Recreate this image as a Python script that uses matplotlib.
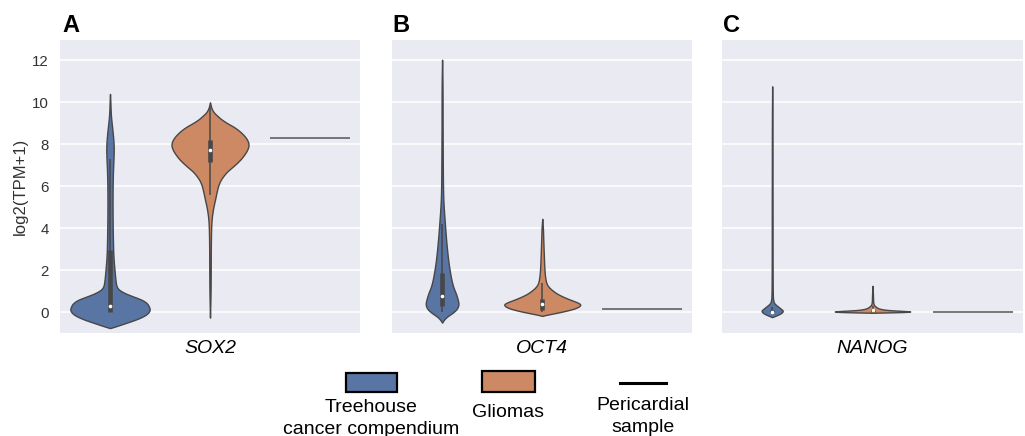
import numpy as np
import matplotlib
matplotlib.use("Agg")
import matplotlib.pyplot as plt
from matplotlib.patches import Rectangle
from matplotlib.lines import Line2D

plt.rcParams['font.family'] = ['Liberation Sans', 'DejaVu Sans']

# ---------------- data ----------------
genes = ["SOX2", "OCT4", "NANOG"]
panel_letters = ["A", "B", "C"]
groups = ["Treehouse\ncancer compendium", "Gliomas", "Pericardial\nsample"]
yticks = [0, 2, 4, 6, 8, 10, 12]
ylabel = "log2(TPM+1)"

# violin half-width profiles (y value, half width in category units)
sox2_tree_y = [-0.76, -0.69, -0.53, -0.37, -0.21, -0.05, 0.11, 0.27, 0.43, 0.59, 0.75, 0.9, 1.06, 1.22,
               1.5, 2.0, 2.5, 3.0, 4.0, 5.0, 6.0, 6.8, 7.3, 7.8, 8.2, 8.7, 9.2, 9.6, 10.0, 10.4]
sox2_tree_w = [0.0, 0.05, 0.15, 0.25, 0.33, 0.38, 0.40, 0.39, 0.37, 0.32, 0.23, 0.15, 0.09, 0.065,
               0.055, 0.045, 0.036, 0.031, 0.027, 0.025, 0.026, 0.03, 0.035, 0.038, 0.034, 0.024, 0.012, 0.006, 0.004, 0.0]
sox2_glio_y = [-0.26, 1.0, 2.0, 3.0, 3.8, 4.3, 4.6, 5.0, 5.35, 5.7, 6.0, 6.25, 6.47, 6.7, 6.94, 7.2,
               7.42, 7.7, 7.98, 8.25, 8.53, 8.8, 9.01, 9.2, 9.33, 9.5, 9.7, 10.0]
sox2_glio_w = [0.0, 0.006, 0.007, 0.008, 0.01, 0.014, 0.02, 0.033, 0.05, 0.065, 0.08, 0.1, 0.13, 0.17,
               0.23, 0.29, 0.33, 0.37, 0.39, 0.37, 0.32, 0.25, 0.17, 0.11, 0.08, 0.04, 0.015, 0.0]
oct4_tree_y = [-0.5, -0.35, -0.21, -0.05, 0.11, 0.25, 0.4, 0.59, 0.75, 0.9, 1.05, 1.22, 1.54, 1.87,
               2.49, 3.45, 4.08, 4.73, 5.35, 6.0, 7.0, 8.0, 9.0, 10.0, 11.0, 12.03]
oct4_tree_w = [0.0, 0.02, 0.05, 0.10, 0.14, 0.158, 0.165, 0.157, 0.147, 0.137, 0.124, 0.11, 0.093, 0.08,
               0.06, 0.04, 0.03, 0.02, 0.012, 0.009, 0.007, 0.006, 0.005, 0.005, 0.004, 0.0]
oct4_glio_y = [-0.18, -0.13, 0.03, 0.19, 0.35, 0.47, 0.59, 0.75, 0.9, 1.06, 1.22, 1.38, 1.7, 2.17,
               2.8, 3.5, 4.0, 4.45]
oct4_glio_w = [0.0, 0.04, 0.21, 0.34, 0.39, 0.35, 0.28, 0.2, 0.14, 0.095, 0.06, 0.04, 0.027, 0.02,
               0.015, 0.01, 0.007, 0.0]
nanog_tree_y = [-0.24, -0.15, -0.05, 0.06, 0.15, 0.3, 0.46, 1.0, 3.0, 5.0, 7.0, 9.0, 10.76]
nanog_tree_w = [0.0, 0.045, 0.09, 0.11, 0.09, 0.05, 0.01, 0.005, 0.004, 0.004, 0.003, 0.003, 0.0]
nanog_glio_y = [-0.03, 0.0, 0.03, 0.06, 0.1, 0.15, 0.2, 0.27, 0.35, 0.5, 0.8, 1.25]
nanog_glio_w = [0.0, 0.3, 0.40, 0.3, 0.15, 0.08, 0.05, 0.03, 0.012, 0.006, 0.005, 0.0]

# box stats: (whisker low, q1, median, q3, whisker high)
sox2_tree_box = (0.0, 0.03, 0.30, 2.97, 7.3)
sox2_glio_box = (5.6, 7.14, 7.74, 8.22, 9.8)
oct4_tree_box = (0.0, 0.27, 0.79, 1.86, 4.2)
oct4_glio_box = (0.0, 0.11, 0.40, 0.63, 1.4)
nanog_tree_box = (0.0, 0.0, 0.03, 0.10, 0.25)
nanog_glio_box = (0.0, 0.0, 0.10, 0.15, 0.3)

# single pericardial sample values
pericardial = [8.3, 0.16, 0.0]

# ---------------- style ----------------
W, H = 1025, 436
BG = "#EAEAF2"
BLUE = "#5875A4"
ORANGE = "#CC8963"
EDGE = "#474747"
TXT = "#333333"

fig = plt.figure(figsize=(W / 100, H / 100), dpi=100)


def rect(l, t, r, b):
    return [l / W, 1 - b / H, (r - l) / W, (b - t) / H]


def chaikin(y, w, n=3):
    p = np.column_stack([y, w]).astype(float)
    for _ in range(n):
        q = [p[0]]
        for a, b in zip(p[:-1], p[1:]):
            q.append(0.75 * a + 0.25 * b)
            q.append(0.25 * a + 0.75 * b)
        q.append(p[-1])
        p = np.array(q)
    return p[:, 0], p[:, 1]


def violin(ax, pos, y, w, color, box):
    ys, ws = chaikin(y, w)
    ax.fill_betweenx(ys, pos - ws, pos + ws, facecolor=color, edgecolor=EDGE, linewidth=1.0, zorder=2)
    lo, q1, med, q3, hi = box
    ax.plot([pos, pos], [lo, hi], color=EDGE, lw=1.1, zorder=3, solid_capstyle="butt")
    ax.plot([pos, pos], [q1, q3], color=EDGE, lw=3.3, zorder=3, solid_capstyle="butt")
    ax.plot([pos], [med], marker="o", ms=2.6, mfc="white", mec="white", mew=0, zorder=4)


rects = [rect(60, 40, 360, 332.7), rect(392, 40, 692.5, 332.7), rect(722, 40, 1023, 332.7)]
letter_x = [62, 392.7, 723.3]
profiles = [
    ((sox2_tree_y, sox2_tree_w, sox2_tree_box), (sox2_glio_y, sox2_glio_w, sox2_glio_box)),
    ((oct4_tree_y, oct4_tree_w, oct4_tree_box), (oct4_glio_y, oct4_glio_w, oct4_glio_box)),
    ((nanog_tree_y, nanog_tree_w, nanog_tree_box), (nanog_glio_y, nanog_glio_w, nanog_glio_box)),
]

for i, gene in enumerate(genes):
    ax = fig.add_axes(rects[i])
    ax.set_facecolor(BG)
    for s in ax.spines.values():
        s.set_visible(False)
    ax.set_axisbelow(True)
    ax.yaxis.grid(True, color="white", lw=1.1)
    ax.set_xlim(-0.5, 2.5)
    ax.set_ylim(-0.98, 12.97)
    ax.set_xticks([])
    ax.set_yticks(yticks)
    ax.tick_params(axis="y", length=0, pad=8, labelsize=10.8, labelcolor=TXT)
    if i == 0:
        ax.set_ylabel(ylabel, fontsize=12, color=TXT, labelpad=3)
    else:
        ax.set_yticklabels([])
    ax.set_xlabel(gene, fontsize=14, style="italic", color="black", labelpad=5)

    (ty, tw, tb), (gy, gw, gb) = profiles[i]
    violin(ax, 0, ty, tw, BLUE, tb)
    violin(ax, 1, gy, gw, ORANGE, gb)
    ax.hlines(pericardial[i], 2 - 0.4, 2 + 0.4, color="#555555", lw=1.1, zorder=2)

    fig.text(letter_x[i] / W, 1 - 31.7 / H, panel_letters[i], fontsize=17, fontweight="bold",
             va="baseline", ha="left", color="black")

# ---------------- legend (manually composed, as in the figure) ----------------
tf = fig.transFigure
fig.add_artist(Rectangle((345.7 / W, 1 - 392.3 / H), 51 / W, 19.6 / H, transform=tf,
                         facecolor=BLUE, edgecolor="black", lw=1.6))
fig.add_artist(Rectangle((482.3 / W, 1 - 391.7 / H), 52.7 / W, 20.7 / H, transform=tf,
                         facecolor=ORANGE, edgecolor="black", lw=1.6))
fig.add_artist(Line2D([620 / W, 665.7 / W], [1 - 383.3 / H, 1 - 383.3 / H], transform=tf,
                      color="black", lw=2.2))

leg_lines = [
    (371, 411.7, "Treehouse"), (371, 433.5, "cancer compendium"),
    (508, 417.3, "Gliomas"),
    (643, 410.0, "Pericardial"), (643, 432.0, "sample"),
]
for x, y, s in leg_lines:
    fig.text(x / W, 1 - y / H, s, fontsize=14, ha="center", va="baseline", color="black")

fig.savefig("out.png", dpi=100)
